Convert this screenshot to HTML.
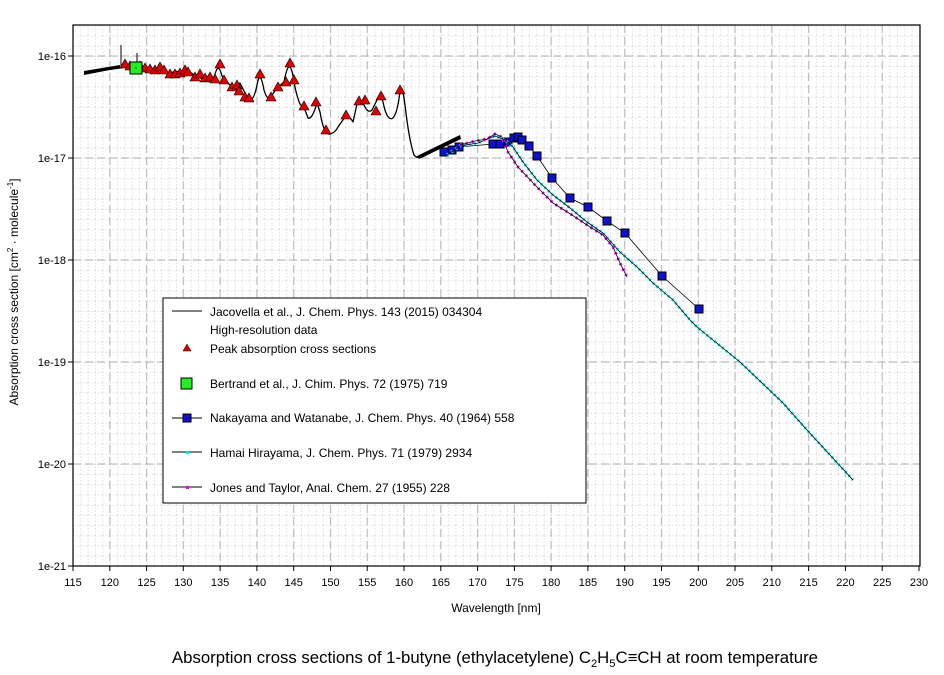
<!DOCTYPE html>
<html><head><meta charset="utf-8"><style>
body{margin:0;background:#fff;}
svg{display:block;font-family:"Liberation Sans",Arial,sans-serif;}
</style></head><body>
<svg width="944" height="675" viewBox="0 0 944 675" xmlns="http://www.w3.org/2000/svg">
<defs>
<pattern id="mg" x="73" y="56" width="7.356" height="10.2" patternUnits="userSpaceOnUse">
<line x1="0.5" y1="0" x2="0.5" y2="10.2" stroke="#d4d4d4" stroke-width="1" stroke-dasharray="1,2"/>
<line x1="0" y1="0.5" x2="7.356" y2="0.5" stroke="#d4d4d4" stroke-width="1" stroke-dasharray="1,2"/>
</pattern>
</defs>
<rect x="73" y="25" width="847" height="541" fill="url(#mg)"/>
<g stroke="#c0c0c0" stroke-width="1.2" stroke-dasharray="8,4">
<line x1="109.8" y1="25" x2="109.8" y2="566"/><line x1="146.6" y1="25" x2="146.6" y2="566"/><line x1="183.3" y1="25" x2="183.3" y2="566"/><line x1="220.1" y1="25" x2="220.1" y2="566"/><line x1="256.9" y1="25" x2="256.9" y2="566"/><line x1="293.7" y1="25" x2="293.7" y2="566"/><line x1="330.5" y1="25" x2="330.5" y2="566"/><line x1="367.2" y1="25" x2="367.2" y2="566"/><line x1="404" y1="25" x2="404" y2="566"/><line x1="440.8" y1="25" x2="440.8" y2="566"/><line x1="477.6" y1="25" x2="477.6" y2="566"/><line x1="514.4" y1="25" x2="514.4" y2="566"/><line x1="551.1" y1="25" x2="551.1" y2="566"/><line x1="587.9" y1="25" x2="587.9" y2="566"/><line x1="624.7" y1="25" x2="624.7" y2="566"/><line x1="661.5" y1="25" x2="661.5" y2="566"/><line x1="698.3" y1="25" x2="698.3" y2="566"/><line x1="735" y1="25" x2="735" y2="566"/><line x1="771.8" y1="25" x2="771.8" y2="566"/><line x1="808.6" y1="25" x2="808.6" y2="566"/><line x1="845.4" y1="25" x2="845.4" y2="566"/><line x1="882.2" y1="25" x2="882.2" y2="566"/>
<line x1="73" y1="56" x2="920" y2="56"/><line x1="73" y1="158" x2="920" y2="158"/><line x1="73" y1="260" x2="920" y2="260"/><line x1="73" y1="362" x2="920" y2="362"/><line x1="73" y1="464" x2="920" y2="464"/>
</g>
<rect x="73" y="25" width="847" height="541" fill="none" stroke="#000" stroke-width="1.2"/>
<g stroke="#000" stroke-width="1">
<line x1="68" y1="56" x2="73" y2="56"/><line x1="68" y1="158" x2="73" y2="158"/><line x1="68" y1="260" x2="73" y2="260"/><line x1="68" y1="362" x2="73" y2="362"/><line x1="68" y1="464" x2="73" y2="464"/><line x1="68" y1="566" x2="73" y2="566"/>
<line x1="73" y1="566" x2="73" y2="571"/><line x1="109.8" y1="566" x2="109.8" y2="571"/><line x1="146.6" y1="566" x2="146.6" y2="571"/><line x1="183.3" y1="566" x2="183.3" y2="571"/><line x1="220.1" y1="566" x2="220.1" y2="571"/><line x1="256.9" y1="566" x2="256.9" y2="571"/><line x1="293.7" y1="566" x2="293.7" y2="571"/><line x1="330.5" y1="566" x2="330.5" y2="571"/><line x1="367.2" y1="566" x2="367.2" y2="571"/><line x1="404" y1="566" x2="404" y2="571"/><line x1="440.8" y1="566" x2="440.8" y2="571"/><line x1="477.6" y1="566" x2="477.6" y2="571"/><line x1="514.4" y1="566" x2="514.4" y2="571"/><line x1="551.1" y1="566" x2="551.1" y2="571"/><line x1="587.9" y1="566" x2="587.9" y2="571"/><line x1="624.7" y1="566" x2="624.7" y2="571"/><line x1="661.5" y1="566" x2="661.5" y2="571"/><line x1="698.3" y1="566" x2="698.3" y2="571"/><line x1="735" y1="566" x2="735" y2="571"/><line x1="771.8" y1="566" x2="771.8" y2="571"/><line x1="808.6" y1="566" x2="808.6" y2="571"/><line x1="845.4" y1="566" x2="845.4" y2="571"/><line x1="882.2" y1="566" x2="882.2" y2="571"/><line x1="919" y1="566" x2="919" y2="571"/>
</g>
<g font-size="11" text-anchor="end" fill="#000">
<text x="66" y="60">1e-16</text><text x="66" y="162">1e-17</text><text x="66" y="264">1e-18</text><text x="66" y="366">1e-19</text><text x="66" y="468">1e-20</text><text x="66" y="570">1e-21</text>
</g>
<g font-size="11" text-anchor="middle" fill="#000">
<text x="73" y="586">115</text><text x="109.8" y="586">120</text><text x="146.6" y="586">125</text><text x="183.3" y="586">130</text><text x="220.1" y="586">135</text><text x="256.9" y="586">140</text><text x="293.7" y="586">145</text><text x="330.5" y="586">150</text><text x="367.2" y="586">155</text><text x="404" y="586">160</text><text x="440.8" y="586">165</text><text x="477.6" y="586">170</text><text x="514.4" y="586">175</text><text x="551.1" y="586">180</text><text x="587.9" y="586">185</text><text x="624.7" y="586">190</text><text x="661.5" y="586">195</text><text x="698.3" y="586">200</text><text x="735" y="586">205</text><text x="771.8" y="586">210</text><text x="808.6" y="586">215</text><text x="845.4" y="586">220</text><text x="882.2" y="586">225</text><text x="919" y="586">230</text>
</g>
<text x="496" y="612" font-size="12" text-anchor="middle">Wavelength [nm]</text>
<text transform="translate(18,292) rotate(-90)" font-size="12" text-anchor="middle">Absorption cross section [cm<tspan dy="-5" font-size="8">2</tspan><tspan dy="5"> · molecule</tspan><tspan dy="-5" font-size="8">-1</tspan><tspan dy="5">]</tspan></text>
<text x="495" y="663" font-size="16.5" text-anchor="middle" textLength="646" lengthAdjust="spacingAndGlyphs">Absorption cross sections of  1-butyne (ethylacetylene) C<tspan dy="4" font-size="11">2</tspan><tspan dy="-4">H</tspan><tspan dy="4" font-size="11">5</tspan><tspan dy="-4">C≡CH at room temperature</tspan></text>

<!-- high-res black line -->
<path fill="none" stroke="#000" stroke-width="1.3" stroke-linejoin="round" d="M84,73 L127,67 L147,67 L167,73 L187,70 L197,77 L207,80 L214,78 Q218,60 222,76 L227,82 L233,88 L240,83 L245,93 L250,100 Q254,100 257,85 Q260,68 264,90 Q267,100 270,98 L277,88 L284,82 Q289,55 293,76 Q296,95 300,104 L305,110 L308,118 Q312,120 317,103 L320,112 Q324,136 330,134 Q335,133 338,127 L345,117 Q350,116 353,122 L357,104 Q361,96 364,105 Q368,114 372,110 L376,102 Q380,92 383,102 Q387,122 393,118 Q398,112 400,90 Q402,82 405,105 Q409,140 414,155 Q418,160 426,155 L460,137"/>
<polygon points="84,71 120,65 120,68 84,75" fill="#000"/>
<polygon points="417,156 460,135 461,139 419,159" fill="#000"/>
<line x1="121" y1="45" x2="121" y2="67" stroke="#000"/>
<line x1="137" y1="53" x2="137" y2="66" stroke="#000"/>
<!-- triangles -->
<g fill="#e00000" stroke="#000" stroke-width="0.6">
<path d="M0,-5 L5,4 L-5,4 Z" transform="translate(125,64)"/>
<path d="M0,-5 L5,4 L-5,4 Z" transform="translate(130,66)"/><path d="M0,-5 L5,4 L-5,4 Z" transform="translate(140,66)"/><path d="M0,-5 L5,4 L-5,4 Z" transform="translate(145,68)"/><path d="M0,-5 L5,4 L-5,4 Z" transform="translate(150,69)"/><path d="M0,-5 L5,4 L-5,4 Z" transform="translate(155,70)"/><path d="M0,-5 L5,4 L-5,4 Z" transform="translate(160,67)"/><path d="M0,-5 L5,4 L-5,4 Z" transform="translate(164,70)"/><path d="M0,-5 L5,4 L-5,4 Z" transform="translate(170,74)"/><path d="M0,-5 L5,4 L-5,4 Z" transform="translate(175,74)"/><path d="M0,-5 L5,4 L-5,4 Z" transform="translate(180,73)"/><path d="M0,-5 L5,4 L-5,4 Z" transform="translate(185,70)"/><path d="M0,-5 L5,4 L-5,4 Z" transform="translate(188,72)"/><path d="M0,-5 L5,4 L-5,4 Z" transform="translate(195,77)"/><path d="M0,-5 L5,4 L-5,4 Z" transform="translate(200,74)"/><path d="M0,-5 L5,4 L-5,4 Z" transform="translate(205,78)"/><path d="M0,-5 L5,4 L-5,4 Z" transform="translate(210,77)"/><path d="M0,-5 L5,4 L-5,4 Z" transform="translate(215,79)"/><path d="M0,-5 L5,4 L-5,4 Z" transform="translate(220,64)"/><path d="M0,-5 L5,4 L-5,4 Z" transform="translate(224,80)"/><path d="M0,-5 L5,4 L-5,4 Z" transform="translate(232,87)"/><path d="M0,-5 L5,4 L-5,4 Z" transform="translate(237,85)"/><path d="M0,-5 L5,4 L-5,4 Z" transform="translate(239,91)"/><path d="M0,-5 L5,4 L-5,4 Z" transform="translate(245,97)"/><path d="M0,-5 L5,4 L-5,4 Z" transform="translate(249,98)"/><path d="M0,-5 L5,4 L-5,4 Z" transform="translate(260,74)"/><path d="M0,-5 L5,4 L-5,4 Z" transform="translate(271,97)"/><path d="M0,-5 L5,4 L-5,4 Z" transform="translate(278,87)"/><path d="M0,-5 L5,4 L-5,4 Z" transform="translate(286,82)"/><path d="M0,-5 L5,4 L-5,4 Z" transform="translate(290,63)"/><path d="M0,-5 L5,4 L-5,4 Z" transform="translate(294,80)"/><path d="M0,-5 L5,4 L-5,4 Z" transform="translate(304,106)"/><path d="M0,-5 L5,4 L-5,4 Z" transform="translate(316,102)"/><path d="M0,-5 L5,4 L-5,4 Z" transform="translate(326,130)"/><path d="M0,-5 L5,4 L-5,4 Z" transform="translate(346,115)"/><path d="M0,-5 L5,4 L-5,4 Z" transform="translate(359,101)"/><path d="M0,-5 L5,4 L-5,4 Z" transform="translate(365,100)"/><path d="M0,-5 L5,4 L-5,4 Z" transform="translate(376,111)"/><path d="M0,-5 L5,4 L-5,4 Z" transform="translate(381,96)"/><path d="M0,-5 L5,4 L-5,4 Z" transform="translate(400,90)"/>
</g>
<rect x="130" y="62" width="12" height="12" fill="#22ee22" stroke="#000" stroke-width="1"/>
<rect x="135.5" y="67.5" width="1" height="1" fill="#000"/>
<!-- Nakayama -->
<polyline fill="none" stroke="#000" stroke-width="0.8" points="444,152 452,150 459,147 493,144 500,144 508,142 514,138 518,137 522,140 529,146 537,156 552,178 570,198 588,207 607,221 625,233 662,276 699,309"/>
<g fill="#1010d0" stroke="#000" stroke-width="1">
<rect x="440" y="148" width="8" height="8"/><rect x="448" y="146" width="8" height="8"/><rect x="455" y="143" width="8" height="8"/><rect x="489" y="140" width="8" height="8"/><rect x="496" y="140" width="8" height="8"/><rect x="504" y="138" width="8" height="8"/><rect x="510" y="134" width="8" height="8"/><rect x="514" y="133" width="8" height="8"/><rect x="518" y="136" width="8" height="8"/><rect x="525" y="142" width="8" height="8"/><rect x="533" y="152" width="8" height="8"/><rect x="548" y="174" width="8" height="8"/><rect x="566" y="194" width="8" height="8"/><rect x="584" y="203" width="8" height="8"/><rect x="603" y="217" width="8" height="8"/><rect x="621" y="229" width="8" height="8"/><rect x="658" y="272" width="8" height="8"/><rect x="695" y="305" width="8" height="8"/>
</g>
<!-- Hamai -->
<polyline fill="none" stroke="#00e8f0" stroke-width="3" stroke-dasharray="2,3" points="447,155 460,146 478,143 495,136 505,140 513,147 523,162 537,180 553,195 570,208 587,222 603,233 620,252 637,267 653,283 673,300 690,320 697,327 740,362 783,403 807,430 853,480"/>
<polyline fill="none" stroke="#000" stroke-width="0.8" points="447,155 460,146 478,143 495,136 505,140 513,147 523,162 537,180 553,195 570,208 587,222 603,233 620,252 637,267 653,283 673,300 690,320 697,327 740,362 783,403 807,430 853,480"/>
<!-- Jones -->
<polyline fill="none" stroke="#ee00ee" stroke-width="3" stroke-dasharray="2,4" points="460,145 475,141 487,139 495,134 502,137 508,152 518,167 535,185 553,203 572,215 590,227 603,235 613,247 620,263 627,277"/>
<polyline fill="none" stroke="#000" stroke-width="0.8" points="460,145 475,141 487,139 495,134 502,137 508,152 518,167 535,185 553,203 572,215 590,227 603,235 613,247 620,263 627,277"/>
<!-- Legend -->
<rect x="163" y="298" width="423" height="205" fill="#fff" stroke="#000" stroke-width="1"/>
<g font-size="12" fill="#000">
<line x1="172" y1="311" x2="202" y2="311" stroke="#000"/>
<text x="210" y="316">Jacovella et al., J. Chem. Phys. 143 (2015) 034304</text>
<text x="210" y="334">High-resolution data</text>
<path d="M187,344 L191,351 L183,351 Z" fill="#e00000" stroke="#000" stroke-width="0.5"/>
<text x="210" y="353">Peak absorption cross sections</text>
<rect x="181" y="378" width="11" height="11" fill="#22ee22" stroke="#000"/>
<text x="210" y="388">Bertrand et al., J. Chim. Phys. 72 (1975) 719</text>
<line x1="172" y1="418" x2="202" y2="418" stroke="#000"/>
<rect x="183" y="414" width="8" height="8" fill="#1010d0" stroke="#000"/>
<text x="210" y="422">Nakayama and Watanabe, J. Chem. Phys. 40 (1964) 558</text>
<line x1="172" y1="452" x2="202" y2="452" stroke="#000"/>
<rect x="186" y="451" width="3" height="3" fill="#00e8f0"/>
<text x="210" y="457">Hamai Hirayama, J. Chem. Phys. 71 (1979) 2934</text>
<line x1="172" y1="487" x2="202" y2="487" stroke="#000"/>
<rect x="186" y="486" width="3" height="3" fill="#ee00ee"/>
<text x="210" y="492">Jones and Taylor, Anal. Chem. 27 (1955) 228</text>
</g>
</svg>
</body></html>
